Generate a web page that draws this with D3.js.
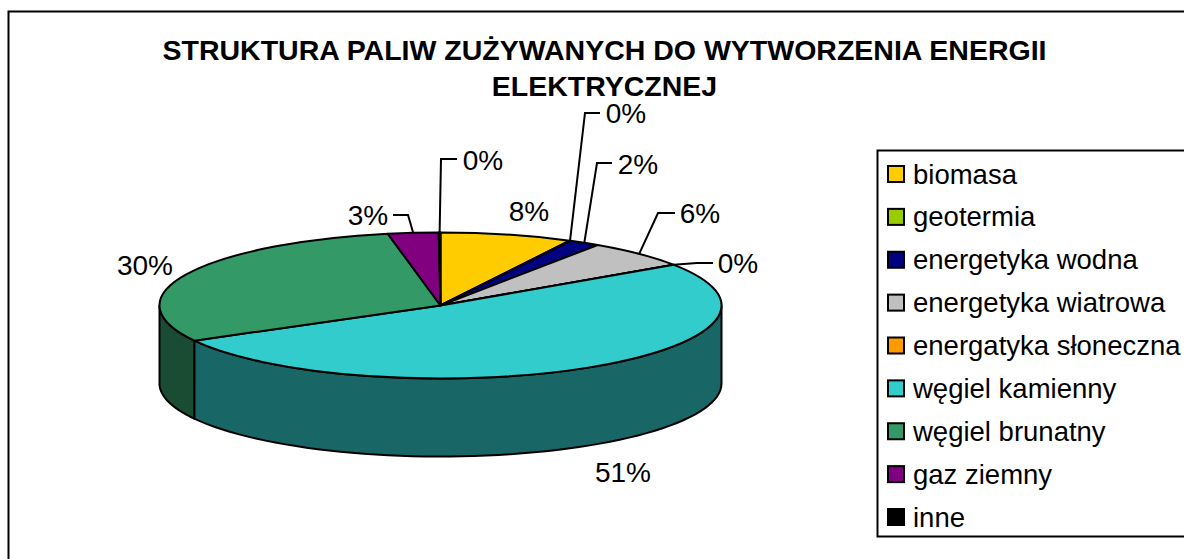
<!DOCTYPE html>
<html>
<head>
<meta charset="utf-8">
<script src="https://cdn.jsdelivr.net/npm/d3@7"></script>
<style>
html,body{margin:0;padding:0;background:#fff;overflow:hidden}
text{font-family:"Liberation Sans",Arial,sans-serif;fill:#000}
</style>
</head>
<body>
<svg id="chart" width="1184" height="559"></svg>
<script>
const titleLines = ["STRUKTURA PALIW ZUŻYWANYCH DO WYTWORZENIA ENERGII", "ELEKTRYCZNEJ"];
const categories = ["biomasa","geotermia","energetyka wodna","energetyka wiatrowa","energatyka słoneczna","węgiel kamienny","węgiel brunatny","gaz ziemny","inne"];
const values = [7.6,0.05,1.8,6.1,0.05,51.4,30.0,2.9,0.1];
const colors = ["#FFCC00","#99CC00","#000080","#C0C0C0","#FF9900","#33CCCC","#339966","#800080","#000000"];

// Layout (not data): label text position, optional leader elbow
const labelLayout = [
  {x:529,y:211},
  {x:626,y:113,elbow:[[585,113],[600,113]]},
  {x:638,y:164,elbow:[[597,163],[612,163]]},
  {x:700,y:213,elbow:[[658,213],[675,213]]},
  {x:738,y:263,elbow:[[697,263],[713,263]]},
  {x:623,y:472},
  {x:145,y:265},
  {x:368,y:215,elbow:[[408,215],[393,215]]},
  {x:483,y:160,elbow:[[441,159],[457,159]]}
];

const W=1184,H=559;
const cx=440.5, cy=305.5, rx=281, ry=73, depth=78;
const svg=d3.select("#chart");

// Frame
svg.append("path").attr("d",`M${W+2},11.5H8.5V${H+2}`).attr("fill","none").attr("stroke","#000").attr("stroke-width",2);

// Title
svg.append("g").selectAll("text").data(titleLines).join("text")
  .attr("x",604.5).attr("y",(d,i)=>60+i*35.5)
  .attr("text-anchor","middle").attr("font-size",28.5).attr("font-weight","bold")
  .text(d=>d);

const pie=d3.pie().value(d=>d).sort(null)(values);
const ex=d3.scaleLinear().domain([-1,1]).range([cx-rx,cx+rx]);
const ey=d3.scaleLinear().domain([-1,1]).range([cy-ry,cy+ry]);
const px=a=>ex(Math.sin(a));
const py=a=>ey(-Math.cos(a));

// Side walls: front half of the ellipse only
const wallG=svg.append("g");
const lo=Math.PI/2, hi=3*Math.PI/2;
pie.forEach((s,i)=>{
  const a0=Math.max(s.startAngle,lo), a1=Math.min(s.endAngle,hi);
  if(a1<=a0) return;
  const ang=d3.range(0,61).map(k=>a0+(a1-a0)*k/60);
  const area=d3.area().x(a=>px(a)).y0(a=>py(a)).y1(a=>py(a)+depth);
  wallG.append("path").attr("d",area(ang))
    .attr("fill",d3.color(colors[i]).darker(1.95).formatHex())
    .attr("stroke","#000").attr("stroke-width",2).attr("stroke-linejoin","round");
});

// Top face, drawn as circle arcs squashed to the ellipse
const arc=d3.arc().innerRadius(0).outerRadius(rx);
svg.append("g").attr("transform",`translate(${cx},${cy}) scale(1,${ry/rx})`)
  .selectAll("path").data(pie).join("path")
  .attr("d",arc)
  .attr("fill",(d,i)=>colors[i])
  .attr("stroke","#000").attr("stroke-width",2)
  .attr("stroke-linejoin","round")
  .attr("vector-effect","non-scaling-stroke");

// Leaders
const leaderG=svg.append("g");
pie.forEach((s,i)=>{
  const l=labelLayout[i];
  if(!l.elbow) return;
  const m=(s.startAngle+s.endAngle)/2;
  const pts=[[px(m),py(m)],...l.elbow];
  leaderG.append("path").attr("d",d3.line()(pts)).attr("fill","none").attr("stroke","#000").attr("stroke-width",2);
});

// Labels
svg.append("g").selectAll("text").data(pie).join("text")
  .attr("x",(d,i)=>labelLayout[i].x).attr("y",(d,i)=>labelLayout[i].y+10)
  .attr("text-anchor","middle").attr("font-size",28)
  .text(d=>d3.format(".0f")(d.value)+"%");

// Legend
const legendY=d3.scalePoint().domain(categories).range([174,517]);
const lg=svg.append("g");
lg.append("rect").attr("x",877.5).attr("y",150.5).attr("width",W).attr("height",386).attr("fill","#fff").attr("stroke","#000").attr("stroke-width",2);
const row=lg.selectAll("g").data(categories).join("g").attr("transform",d=>`translate(0,${legendY(d)})`);
row.append("rect").attr("x",888).attr("y",-8).attr("width",16).attr("height",16)
  .attr("fill",(d,i)=>colors[i]).attr("stroke","#000").attr("stroke-width",2);
row.append("text").attr("x",913).attr("y",9.5).attr("font-size",27.5).text(d=>d);
</script>
</body>
</html>
